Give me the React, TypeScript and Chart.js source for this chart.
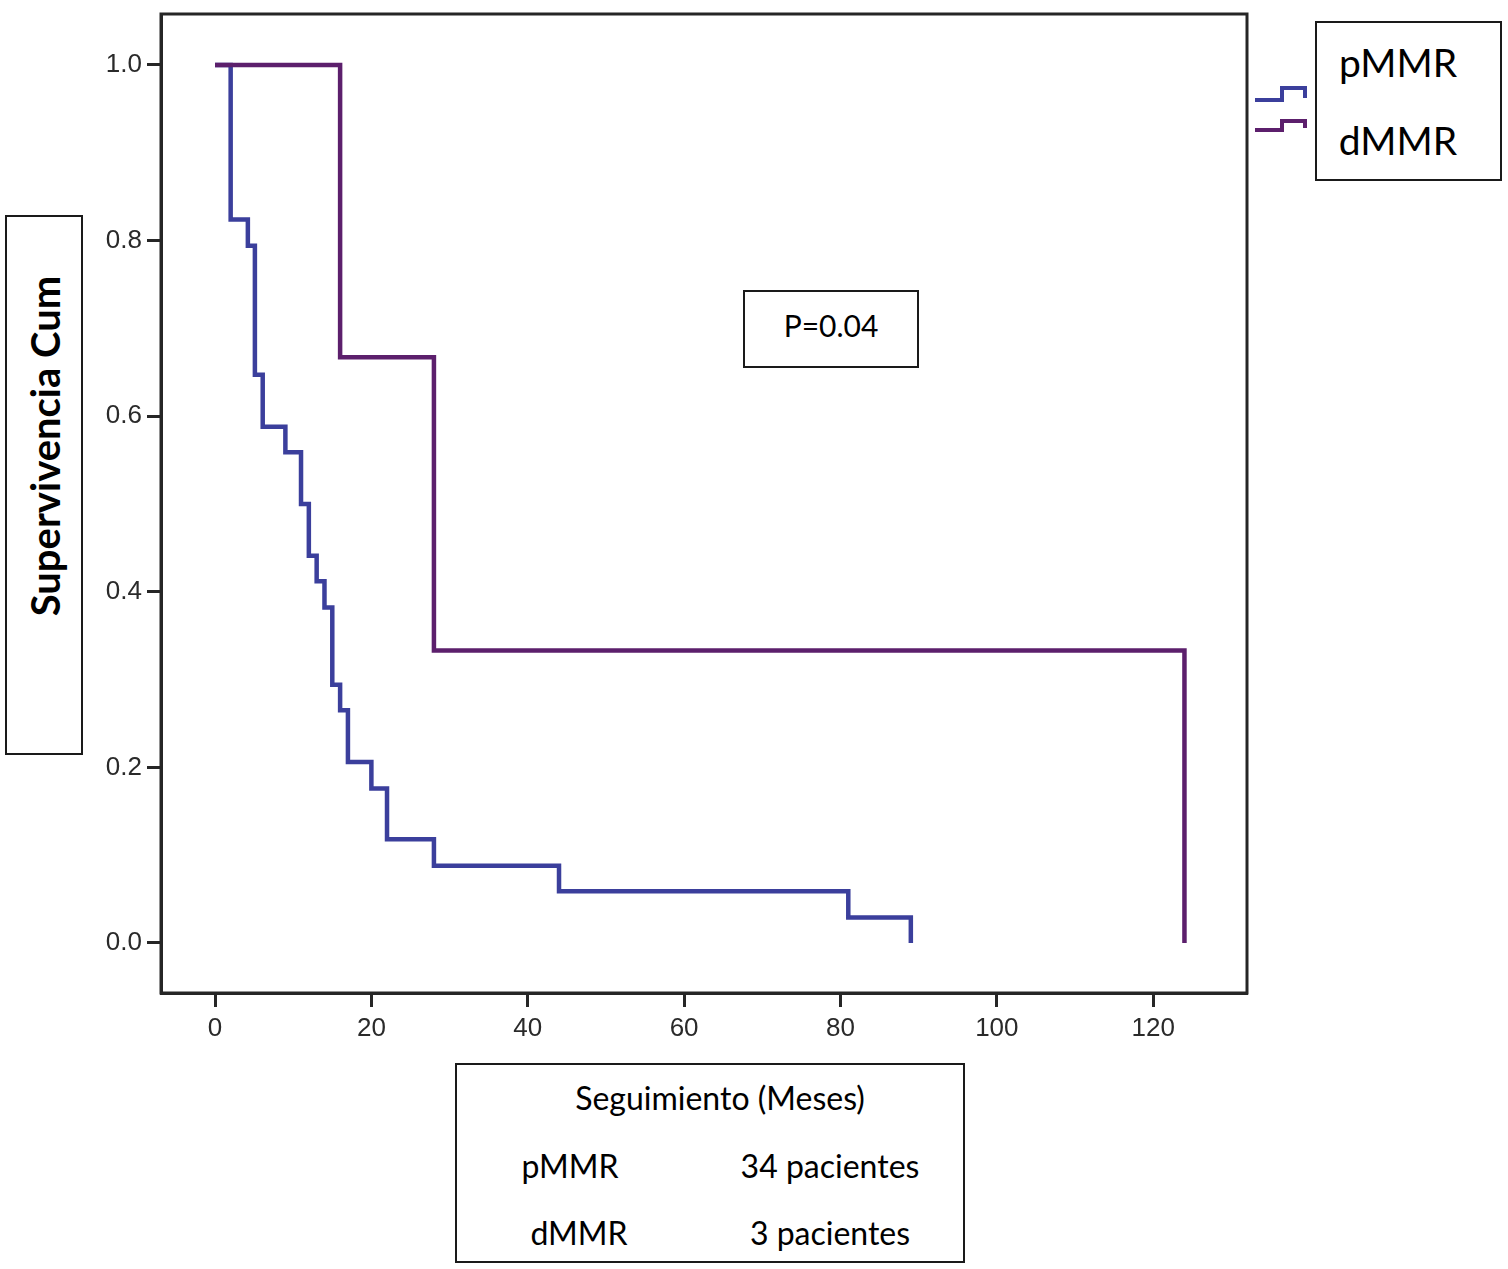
import React, { useEffect, useRef } from "react";
import { Chart, registerables } from "chart.js";

Chart.register(...registerables);

// Kaplan-Meier data
const pmmrMonths = [0, 2, 4.2, 5.1, 6.1, 9, 11, 12, 13, 14, 15, 16, 17, 20, 22, 28, 44, 81, 89];
const pmmrSurvival = [1.0, 0.824, 0.794, 0.647, 0.588, 0.559, 0.5, 0.441, 0.412, 0.382, 0.294, 0.265, 0.206, 0.176, 0.118, 0.088, 0.059, 0.029, 0.0];
const dmmrMonths = [0, 16, 28, 124];
const dmmrSurvival = [1.0, 0.667, 0.333, 0.0];

const xTickValues = [0, 20, 40, 60, 80, 100, 120];
const yTickValues = [0, 0.2, 0.4, 0.6, 0.8, 1.0];

const seriesNames = ["pMMR", "dMMR"];
const patientCounts = ["34 pacientes", "3 pacientes"];
const xTitle = "Seguimiento (Meses)";
const yTitle = "Supervivencia Cum";
const pValueText = "P=0.04";

const BLUE = "#3b3f9c";
const PURPLE = "#5c1f6c";
const AXIS = "#262626";

const W = 1508;
const H = 1269;

const framePlugin = {
  id: "frameAndLegend",
  afterDraw(chart: any) {
    const { ctx, chartArea } = chart;
    ctx.save();
    ctx.strokeStyle = AXIS;
    ctx.lineWidth = 3;
    ctx.strokeRect(chartArea.left, chartArea.top, chartArea.right - chartArea.left, chartArea.bottom - chartArea.top);
    // legend step icons
    const drawIcon = (color: string, yLow: number, yHigh: number) => {
      ctx.beginPath();
      ctx.strokeStyle = color;
      ctx.lineWidth = 4;
      ctx.lineJoin = "miter";
      ctx.moveTo(1255, yLow);
      ctx.lineTo(1282, yLow);
      ctx.lineTo(1282, yHigh);
      ctx.lineTo(1305, yHigh);
      ctx.lineTo(1305, yLow - 2);
      ctx.stroke();
    };
    drawIcon(BLUE, 100, 88);
    drawIcon(PURPLE, 130, 121);
    ctx.restore();
  },
};

function ChartCanvas() {
  const ref = useRef<HTMLCanvasElement | null>(null);
  useEffect(() => {
    if (!ref.current) return;
    const chart = new Chart(ref.current, {
      type: "line",
      data: {
        datasets: [
          {
            label: seriesNames[0],
            data: pmmrMonths.map((m, i) => ({ x: m, y: pmmrSurvival[i] })),
            borderColor: BLUE,
            borderWidth: 4.5,
            pointRadius: 0,
            stepped: "before",
            fill: false,
            order: 2,
            borderCapStyle: "butt",
            borderJoinStyle: "miter",
          },
          {
            label: seriesNames[1],
            data: dmmrMonths.map((m, i) => ({ x: m, y: dmmrSurvival[i] })),
            borderColor: PURPLE,
            borderWidth: 4.5,
            pointRadius: 0,
            stepped: "before",
            fill: false,
            order: 1,
            borderCapStyle: "butt",
            borderJoinStyle: "miter",
          },
        ],
      },
      options: {
        animation: false,
        responsive: false,
        devicePixelRatio: 1,
        layout: { padding: { left: 100, right: W - 1247, top: 14, bottom: 0 } },
        plugins: { legend: { display: false }, tooltip: { enabled: false }, title: { display: false } },
        scales: {
          x: {
            type: "linear",
            min: -6.91,
            max: 132.0,
            afterBuildTicks: (s: any) => {
              s.ticks = xTickValues.map((v) => ({ value: v }));
            },
            afterFit: (s: any) => {
              s.height = H - 993;
              s.paddingLeft = 0;
              s.paddingRight = 0;
            },
            ticks: {
              autoSkip: false,
              maxRotation: 0,
              color: "#2a2a2a",
              padding: 6,
              font: { family: "'Liberation Sans', Arial, sans-serif", size: 26 },
              callback: (v: any) => String(v),
            },
            grid: { drawOnChartArea: false, drawTicks: true, tickLength: 14, tickWidth: 3, tickColor: AXIS },
            border: { display: true, color: AXIS, width: 3 },
          },
          y: {
            type: "linear",
            min: -0.057,
            max: 1.058,
            afterBuildTicks: (s: any) => {
              s.ticks = yTickValues.map((v) => ({ value: v }));
            },
            afterFit: (s: any) => {
              s.width = 61;
              s.paddingTop = 0;
              s.paddingBottom = 0;
            },
            ticks: {
              autoSkip: false,
              color: "#2a2a2a",
              padding: 5,
              font: { family: "'Liberation Sans', Arial, sans-serif", size: 26 },
              callback: (v: any) => Number(v).toFixed(1),
            },
            grid: { drawOnChartArea: false, drawTicks: true, tickLength: 14, tickWidth: 3, tickColor: AXIS },
            border: { display: true, color: AXIS, width: 3 },
          },
        },
      },
      plugins: [framePlugin],
    } as any);
    return () => chart.destroy();
  }, []);
  return <canvas ref={ref} width={W} height={H} style={{ position: "absolute", left: 0, top: 0, width: W, height: H }} />;
}

const textFont = "Lato, 'Open Sans', sans-serif";

function Label({ x, y, size, bold, children }: any) {
  return (
    <div
      style={{
        position: "absolute",
        left: x,
        top: y,
        transform: "translate(-50%, -50%)",
        fontFamily: textFont,
        fontSize: size,
        fontWeight: bold ? 700 : 400,
        lineHeight: 1,
        whiteSpace: "nowrap",
        color: "#000",
      }}
    >
      {children}
    </div>
  );
}

function Box({ x, y, w, h }: any) {
  return (
    <div
      style={{
        position: "absolute",
        left: x,
        top: y,
        width: w,
        height: h,
        boxSizing: "border-box",
        border: "2px solid #1a1a1a",
        background: "#fff",
      }}
    />
  );
}

export default function App() {
  return (
    <div style={{ position: "absolute", left: 0, top: 0, width: W, height: H, background: "#fff", overflow: "hidden" }}>
      <ChartCanvas />
      {/* Y axis title box */}
      <Box x={5} y={215} w={78} h={540} />
      <div
        style={{
          position: "absolute",
          left: 45,
          top: 446,
          transform: "translate(-50%, -50%) rotate(-90deg)",
          fontFamily: textFont,
          fontSize: 40,
          fontWeight: 700,
          lineHeight: 1,
          whiteSpace: "nowrap",
          color: "#000",
        }}
      >
        {yTitle}
      </div>
      {/* Legend box */}
      <Box x={1315} y={21} w={187} h={160} />
      <Label x={1398} y={62} size={39}>{seriesNames[0]}</Label>
      <Label x={1398} y={140} size={39}>{seriesNames[1]}</Label>
      {/* P value box */}
      <Box x={743} y={290} w={176} h={78} />
      <Label x={831} y={325} size={30}>{pValueText}</Label>
      {/* Bottom box */}
      <Box x={455} y={1063} w={510} h={200} />
      <Label x={720} y={1098} size={32}>{xTitle}</Label>
      <Label x={570} y={1166} size={32}>{seriesNames[0]}</Label>
      <Label x={830} y={1166} size={32}>{patientCounts[0]}</Label>
      <Label x={579} y={1233} size={32}>{seriesNames[1]}</Label>
      <Label x={830} y={1233} size={32}>{patientCounts[1]}</Label>
    </div>
  );
}
